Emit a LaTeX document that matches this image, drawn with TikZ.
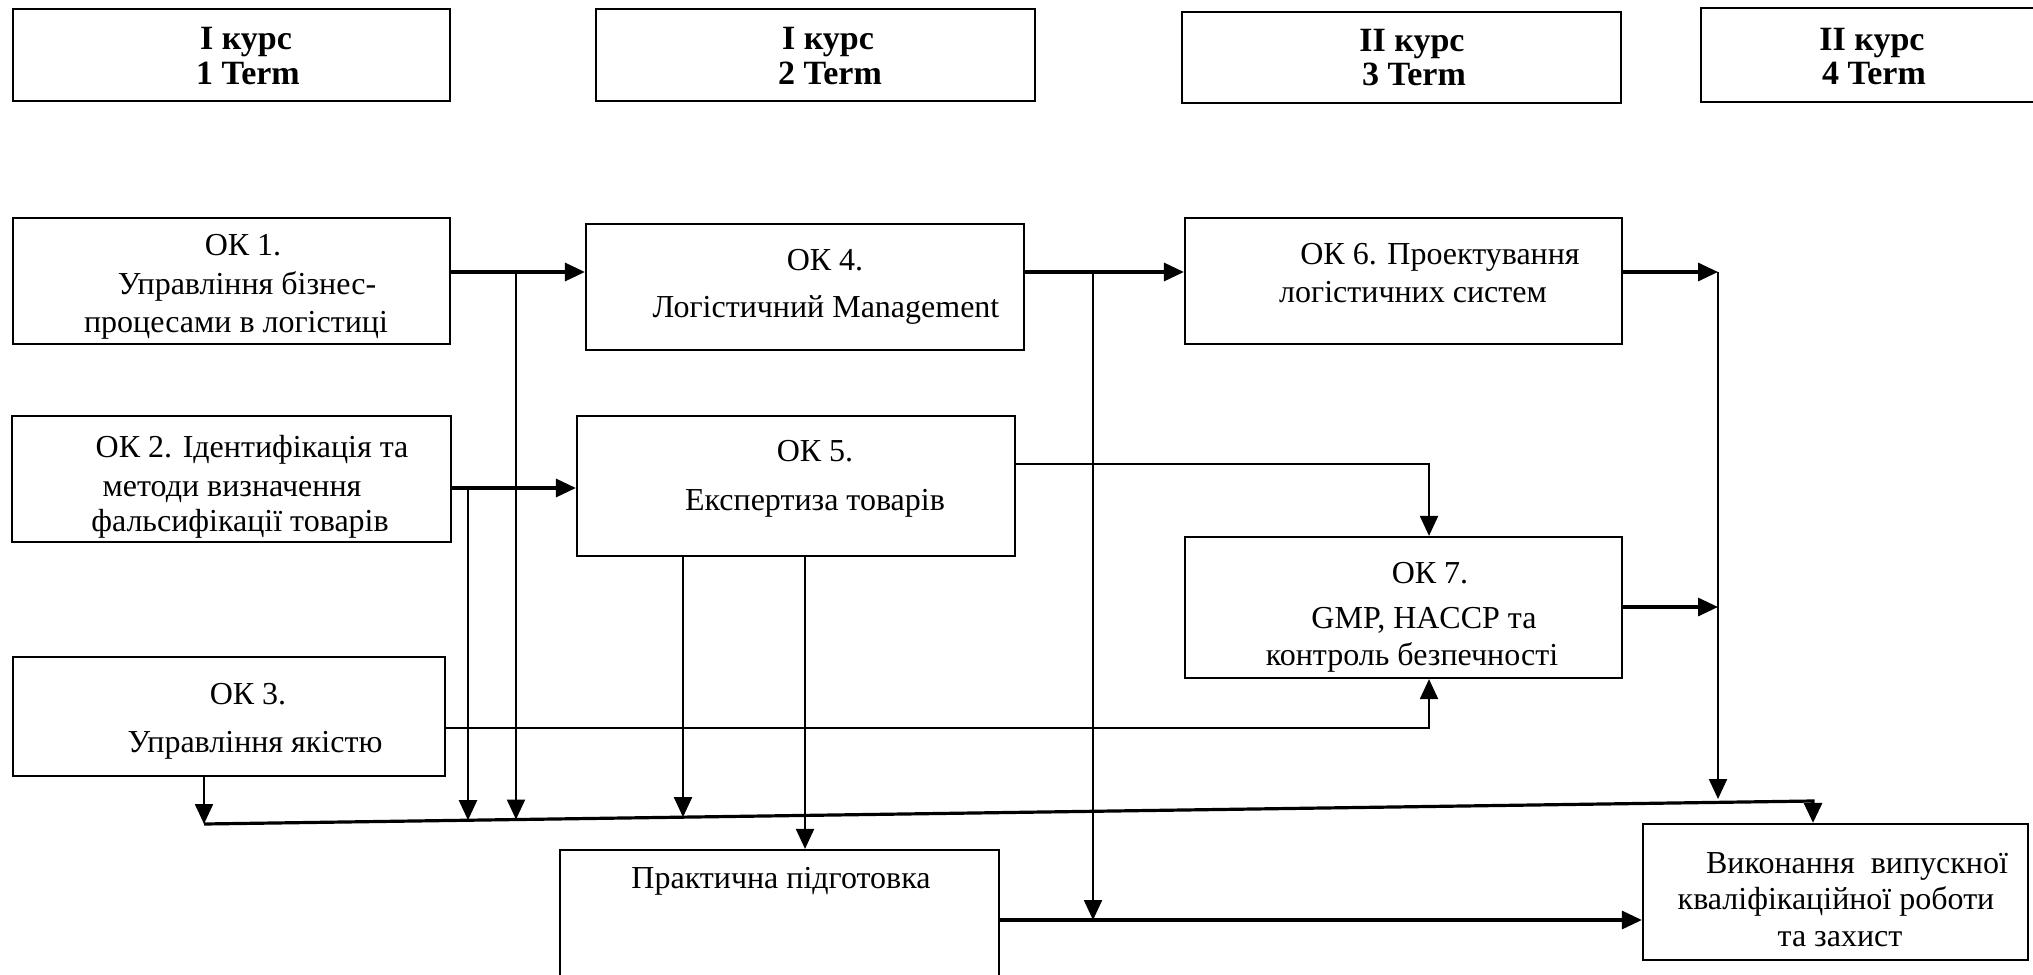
\documentclass[tikz,border=0pt]{standalone}
\usepackage{fontspec}
\setmainfont{Liberation Serif}
\usetikzlibrary{arrows.meta,fit}
\begin{document}
\begin{tikzpicture}[x=0.5pt,y=-0.5pt,
  box/.style={draw, line width=1.1pt, inner sep=0pt, rectangle},
  txt/.style={anchor=base, inner sep=0pt, font=\fontsize{16}{19}\selectfont},
  hdr/.style={anchor=base, inner sep=0pt, font=\fontsize{17}{20}\selectfont\bfseries},
  thk/.style={line width=1.6pt},
  thn/.style={line width=1.1pt},
  tip/.style={-{Triangle[length=10pt,width=9pt]}},
]
\useasboundingbox (0,0) rectangle (2033,974);
\clip (0,0) rectangle (2033,974);

% header boxes
\node[box, fit={(13,9) (450,101)}] (h1) {};
\node[box, fit={(596,9) (1035,101)}] (h2) {};
\node[box, fit={(1182,12) (1621,103)}] (h3) {};
\node[box, fit={(1701,8) (2050,102)}] (h4) {};
\node[hdr] (h1a) at (246,50) {I курс};
\node[hdr] (h1b) at (248,84) {1 Term};
\node[hdr] (h2a) at (828,50) {I курс};
\node[hdr] (h2b) at (830,84) {2 Term};
\node[hdr] (h3a) at (1412,52) {II курс};
\node[hdr] (h3b) at (1414,86) {3 Term};
\node[hdr] (h4a) at (1872,51) {II курс};
\node[hdr] (h4b) at (1874,84) {4 Term};

% content boxes
\node[box, fit={(13,218) (450,344)}] (ok1) {};
\node[box, fit={(586,224) (1024,350)}] (ok4) {};
\node[box, fit={(1185,218) (1622,344)}] (ok6) {};
\node[box, fit={(12,416) (451,542)}] (ok2) {};
\node[box, fit={(577,416) (1015,556)}] (ok5) {};
\node[box, fit={(1185,537) (1622,678)}] (ok7) {};
\node[box, fit={(13,657) (445,776)}] (ok3) {};
\node[box, fit={(560,850) (999,1000)}] (prac) {};
\node[box, fit={(1643,824) (2028,960)}] (vyk) {};

% texts
\node[txt] (t1a) at (243,255) {ОК 1.};
\node[txt] (t1b) at (247,294) {Управління бізнес-};
\node[txt] (t1c) at (236,332) {процесами в логістиці};
\node[txt] (t4a) at (825,270) {ОК 4.};
\node[txt] (t4b) at (826,317) {Логістичний Management};
\node[txt] (t6a) at (1440,264) {ОК 6. Проектування};
\node[txt] (t6b) at (1413,302) {логістичних систем};
\node[txt] (t2a) at (252,457) {ОК 2. Ідентифікація та};
\node[txt] (t2b) at (232,496) {методи визначення};
\node[txt] (t2c) at (240,531) {фальсифікації товарів};
\node[txt] (t5a) at (815,461) {ОК 5.};
\node[txt] (t5b) at (815,510) {Експертиза товарів};
\node[txt] (t7a) at (1430,583) {ОК 7.};
\node[txt] (t7b) at (1424,628) {GMP, HACCP та};
\node[txt] (t7c) at (1412,665) {контроль безпечності};
\node[txt] (t3a) at (248,704) {ОК 3.};
\node[txt] (t3b) at (255,752) {Управління якістю};
\node[txt] (tpa) at (781,888) {Практична підготовка};
\node[txt] (tva) at (1857,873) {Виконання\ \ випускної};
\node[txt] (tvb) at (1836,909) {кваліфікаційної роботи};
\node[txt] (tvc) at (1840,946) {та захист};

% junction coordinates
\coordinate (y272) at (0,272);
\coordinate (y488) at (0,488);
\coordinate (y607) at (0,607);
\coordinate (y920) at (0,920);
\coordinate (j1) at (516,272);
\coordinate (e1) at (516,819.5);
\coordinate (j2) at (468,488);
\coordinate (e2) at (468,820.2);
\coordinate (j3) at (1093,272);
\coordinate (e3) at (1093,920);
\coordinate (k4) at (1429,464);
\coordinate (k5) at (1429,728);
\coordinate (k6) at (683,817.1);
\coordinate (k7) at (805,0);
\coordinate (s1) at (204,824);
\coordinate (s2) at (1813,801);
\coordinate (k9) at (1718,272);
\coordinate (k10) at (1718,799);
\coordinate (k11) at (1718,607);

% thick horizontal arrows
\draw[thk,tip] (ok1.east |- y272) -- (ok4.west |- y272);
\draw[thk,tip] (ok2.east |- y488) -- (ok5.west |- y488);
\draw[thk,tip] (ok4.east |- y272) -- (ok6.west |- y272);
\draw[thk,tip] (ok6.east |- y272) -- (k9);
\draw[thk,tip] (ok7.east |- y607) -- (k11);
\draw[thk,tip] (prac.east |- y920) -- (vyk.west |- y920);

% thin connectors
\draw[thn,tip] (j1) -- (e1);
\draw[thn,tip] (j2) -- (e2);
\draw[thn,tip] (j3) -- (e3);
\draw[thn,tip] (ok5.east |- k4) -- (k4) -- (k4 |- ok7.north);
\draw[thn,tip] (ok3.east |- k5) -- (k5) -- (k5 |- ok7.south);
\draw[thn,tip] (k6 |- ok5.south) -- (k6);
\draw[thn,tip] (k7 |- ok5.south) -- (k7 |- prac.north);
\draw[thn,tip] (s1 |- ok3.south) -- (s1);
\draw[thn,tip] (k9) -- (k10);
\draw[thk,tip] (s1) -- (s2) -- (s2 |- vyk.north);
\end{tikzpicture}
\end{document}
